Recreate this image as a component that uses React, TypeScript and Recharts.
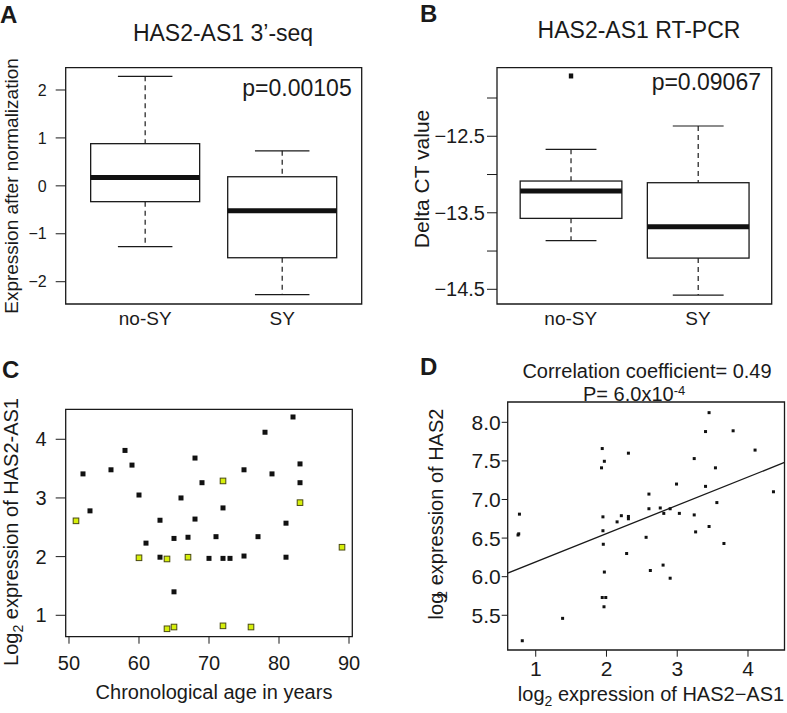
import React from 'react';
import { ComposedChart, ScatterChart, Scatter, Bar, XAxis, YAxis, ReferenceArea } from 'recharts';

const FONT = '"Liberation Sans", Arial, Helvetica, sans-serif';
const INK = '#1a1a1a';

// A + B: two groups per box plot
const groups = ['no-SY', 'SY'];
const groupPos = [1, 2];

// A: HAS2-AS1 3'-seq
const seqWhiskerLo = [-1.27, -2.27];
const seqQ1 = [-0.33, -1.5];
const seqMedian = [0.175, -0.52];
const seqQ3 = [0.88, 0.19];
const seqWhiskerHi = [2.285, 0.73];
const seqOutliers: number[][] = [[], []];
const seqTicks = [-2, -1, 0, 1, 2];

// B: HAS2-AS1 RT-PCR
const pcrWhiskerLo = [-13.865, -14.575];
const pcrQ1 = [-13.573, -14.092];
const pcrMedian = [-13.216, -13.682];
const pcrQ3 = [-13.085, -13.107];
const pcrWhiskerHi = [-12.671, -12.366];
const pcrOutliers: number[][] = [[-11.712], []];
const pcrTicks = [-12, -12.5, -13, -13.5, -14, -14.5];

// C: age vs log2 HAS2-AS1
const ageBlack = [52, 53, 56, 58, 59, 60, 61, 63, 63, 65, 65, 66, 67, 68, 68, 69, 70, 71, 72, 72, 73, 75, 75, 77, 78, 79, 81, 81, 82, 83, 83];
const exprBlack = [3.41, 2.78, 3.48, 3.81, 3.56, 3.05, 2.23, 2.62, 1.99, 2.31, 1.4, 3.0, 2.33, 3.68, 2.64, 3.26, 1.97, 2.34, 2.83, 1.97, 1.97, 3.48, 2.01, 2.34, 4.12, 3.41, 2.57, 1.99, 4.38, 3.58, 3.26];
const ageYellow = [51, 60, 64, 67, 72, 83, 89, 64, 65, 72, 76];
const exprYellow = [2.61, 1.98, 1.96, 1.99, 3.29, 2.92, 2.16, 0.77, 0.8, 0.82, 0.8];
const ageTicks = [50, 60, 70, 80, 90];
const exprTicks = [1, 2, 3, 4];

// D: log2 HAS2-AS1 vs log HAS2
const has2as1 = [0.77, 0.76, 0.75, 0.81, 1.38, 1.94, 1.97, 1.93, 1.95, 1.95, 1.955, 1.97, 1.94, 1.99, 1.965, 2.15, 2.21, 2.31, 2.31, 2.31, 2.285, 2.56, 2.6, 2.6, 2.62, 2.76, 2.81, 2.9, 2.8, 2.9, 2.99, 3.03, 3.24, 3.24, 3.26, 3.4, 3.4, 3.45, 3.45, 3.54, 3.56, 3.66, 3.79, 4.1, 4.36];
const has2 = [6.81, 6.555, 6.54, 5.17, 5.46, 7.66, 7.495, 7.41, 6.775, 6.595, 6.42, 6.06, 5.73, 5.73, 5.61, 6.71, 6.79, 7.6, 6.78, 6.75, 6.3, 6.51, 7.07, 6.88, 6.08, 6.89, 6.82, 6.88, 6.15, 5.98, 7.2, 6.82, 7.53, 6.8, 6.58, 7.88, 7.17, 8.125, 6.65, 7.41, 6.96, 6.43, 7.89, 7.64, 7.1];
const fitX = [0.604, 4.516];
const fitY = [6.047, 7.48];
const d2Ticks = [1, 2, 3, 4];
const has2Ticks = [5.5, 6, 6.5, 7, 7.5, 8];

// axis ranges (R style, 4% padding)
const boxX = [0.42, 2.58];
const seqY = [-2.465, 2.465];
const pcrY = [-14.692, -11.604];
const cX = [49.53, 90.47];
const cY = [0.635, 4.511];
const dX = [0.604, 4.516];
const dY = [5.05, 8.263];

function boxRows(lo: number[], q1: number[], med: number[], q3: number[], hi: number[], out: number[][]) {
  return groupPos.map((pos, i) => {
    const all = [lo[i], hi[i], ...out[i]];
    return {
      pos,
      span: [Math.min(...all), Math.max(...all)],
      lo: lo[i], q1: q1[i], med: med[i], q3: q3[i], hi: hi[i], out: out[i],
    };
  });
}

const seqRows = boxRows(seqWhiskerLo, seqQ1, seqMedian, seqQ3, seqWhiskerHi, seqOutliers);
const pcrRows = boxRows(pcrWhiskerLo, pcrQ1, pcrMedian, pcrQ3, pcrWhiskerHi, pcrOutliers);
const cBlack = ageBlack.map((x, i) => ({ x, y: exprBlack[i] }));
const cYellow = ageYellow.map((x, i) => ({ x, y: exprYellow[i] }));
const dPoints = has2as1.map((x, i) => ({ x, y: has2[i] }));
const dFit = fitX.map((x, i) => ({ x, y: fitY[i] }));

const minus = (v: number) => String(v).replace('-', '\u2212');
const groupLabel = (v: number) => groups[groupPos.indexOf(v)] ?? '';

// box drawn inside the bar spanning [lowest, highest]; values mapped through the bar's own pixel span
function BoxShape(props: any) {
  const { x, y, width, height, payload } = props;
  if (!payload) return null;
  const [a, b] = payload.span;
  const top = Math.min(y, y + height);
  const h = Math.abs(height);
  const py = (v: number) => top + ((b - v) / (b - a)) * h;
  const cx = x + width / 2;
  const cap = width / 4;
  return (
    <g>
      <line x1={cx} x2={cx} y1={py(payload.hi)} y2={py(payload.q3)} stroke={INK} strokeWidth={1.2} strokeDasharray="5 4" />
      <line x1={cx} x2={cx} y1={py(payload.q1)} y2={py(payload.lo)} stroke={INK} strokeWidth={1.2} strokeDasharray="5 4" />
      <line x1={cx - cap} x2={cx + cap} y1={py(payload.hi)} y2={py(payload.hi)} stroke={INK} strokeWidth={1.2} />
      <line x1={cx - cap} x2={cx + cap} y1={py(payload.lo)} y2={py(payload.lo)} stroke={INK} strokeWidth={1.2} />
      <rect x={x} y={py(payload.q3)} width={width} height={py(payload.q1) - py(payload.q3)} fill="#fff" stroke={INK} strokeWidth={1.3} />
      <line x1={x} x2={x + width} y1={py(payload.med)} y2={py(payload.med)} stroke="#111" strokeWidth={5} />
      {payload.out.map((o: number, i: number) => (
        <rect key={i} x={cx - 2.2} y={py(o) - 2.5} width={4.4} height={5} fill="#111" />
      ))}
    </g>
  );
}

const BlackSquare = (p: any) => <rect x={p.cx - 2.5} y={p.cy - 2.5} width={5} height={5} fill="#111" />;
const YellowSquare = (p: any) => (
  <rect x={p.cx - 2.8} y={p.cy - 2.8} width={5.6} height={5.6} fill="#d6ef0a" stroke="#4a4a12" strokeWidth={1} />
);
const SmallSquare = (p: any) => <rect x={p.cx - 1.5} y={p.cy - 1.5} width={3} height={3} fill="#111" />;
const NoDot = () => null;

const tickStyle = (size: number) => ({ fontSize: size, fill: INK, fontFamily: FONT });

export default function App() {
  return (
    <div style={{ position: 'absolute', left: 0, top: 0, width: 787, height: 713, background: '#fff', fontFamily: FONT }}>
      {/* A */}
      <div style={{ position: 'absolute', left: 0, top: 0 }}>
        <ComposedChart width={390} height={340} data={seqRows} margin={{ top: 67.7, right: 28.3, bottom: 6, left: 5.7 }}>
          <XAxis type="number" dataKey="pos" domain={boxX} allowDataOverflow ticks={groupPos} interval={0}
            tickFormatter={groupLabel} axisLine={false} tickLine={false} height={30} tick={tickStyle(19)} />
          <YAxis type="number" domain={seqY} allowDataOverflow ticks={seqTicks} interval={0} width={60}
            axisLine={false} tickSize={10} tickMargin={9} tickLine={{ stroke: INK }} tickFormatter={minus} tick={tickStyle(16)} />
          <ReferenceArea x1={boxX[0]} x2={boxX[1]} y1={seqY[0]} y2={seqY[1]} fill="none" stroke={INK} strokeWidth={1.3} ifOverflow="visible" />
          <Bar dataKey="span" barSize={109} shape={BoxShape} isAnimationActive={false} />
        </ComposedChart>
      </div>

      {/* B */}
      <div style={{ position: 'absolute', left: 390, top: 0 }}>
        <ComposedChart width={397} height={340} data={pcrRows} margin={{ top: 67.7, right: 15.3, bottom: 6, left: 27 }}>
          <XAxis type="number" dataKey="pos" domain={boxX} allowDataOverflow ticks={groupPos} interval={0}
            tickFormatter={groupLabel} axisLine={false} tickLine={false} height={30} tick={tickStyle(19)} />
          <YAxis type="number" domain={pcrY} allowDataOverflow ticks={pcrTicks} interval={0} width={80}
            axisLine={false} tickSize={10} tickMargin={2} tickLine={{ stroke: INK }}
            tickFormatter={(v: number) => (Number.isInteger(v) ? '' : minus(v))} tick={tickStyle(20)} />
          <ReferenceArea x1={boxX[0]} x2={boxX[1]} y1={pcrY[0]} y2={pcrY[1]} fill="none" stroke={INK} strokeWidth={1.3} ifOverflow="visible" />
          <Bar dataKey="span" barSize={101.7} shape={BoxShape} isAnimationActive={false} />
        </ComposedChart>
      </div>

      {/* C */}
      <div style={{ position: 'absolute', left: 0, top: 340 }}>
        <ScatterChart width={390} height={373} margin={{ top: 69.3, right: 37.7, bottom: 46.3, left: 5.7 }}>
          <XAxis type="number" dataKey="x" domain={cX} allowDataOverflow ticks={ageTicks} interval={0} height={30}
            axisLine={false} tickSize={7} tickMargin={12} tickLine={{ stroke: INK }} tick={tickStyle(20)} />
          <YAxis type="number" dataKey="y" domain={cY} allowDataOverflow ticks={exprTicks} interval={0} width={60}
            axisLine={false} tickSize={10} tickMargin={9} tickLine={{ stroke: INK }} tick={tickStyle(20)} />
          <ReferenceArea x1={cX[0]} x2={cX[1]} y1={cY[0]} y2={cY[1]} fill="none" stroke={INK} strokeWidth={1.3} ifOverflow="visible" />
          <Scatter data={cBlack} shape={BlackSquare} isAnimationActive={false} />
          <Scatter data={cYellow} shape={YellowSquare} isAnimationActive={false} />
        </ScatterChart>
      </div>

      {/* D */}
      <div style={{ position: 'absolute', left: 390, top: 340 }}>
        <ScatterChart width={397} height={373} margin={{ top: 62, right: 2.5, bottom: 33, left: 17.7 }}>
          <XAxis type="number" dataKey="x" domain={dX} allowDataOverflow ticks={d2Ticks} interval={0} height={30}
            axisLine={false} tickSize={6.7} tickMargin={4} tickLine={{ stroke: INK }} tick={tickStyle(21)} />
          <YAxis type="number" dataKey="y" domain={dY} allowDataOverflow ticks={has2Ticks} interval={0} width={100}
            axisLine={false} tickSize={6} tickMargin={1} tickLine={{ stroke: INK }}
            tickFormatter={(v: number) => v.toFixed(1)} tick={tickStyle(21)} />
          <ReferenceArea x1={dX[0]} x2={dX[1]} y1={dY[0]} y2={dY[1]} fill="none" stroke={INK} strokeWidth={1.3} ifOverflow="visible" />
          <Scatter data={dFit} line={{ stroke: INK, strokeWidth: 1.3 }} shape={NoDot} isAnimationActive={false} />
          <Scatter data={dPoints} shape={SmallSquare} isAnimationActive={false} />
        </ScatterChart>
      </div>

      {/* titles, panel letters, axis titles */}
      <svg width={787} height={713} style={{ position: 'absolute', left: 0, top: 0, pointerEvents: 'none' }} fontFamily={FONT} fill={INK}>
        <text x={0} y={23} fontSize={24} fontWeight="bold">A</text>
        <text x={420} y={22} fontSize={24} fontWeight="bold">B</text>
        <text x={2} y={378} fontSize={24} fontWeight="bold">C</text>
        <text x={420} y={375} fontSize={24} fontWeight="bold">D</text>

        <text x={223} y={41} fontSize={23} textAnchor="middle">HAS2-AS1 3’-seq</text>
        <text x={639} y={37.5} fontSize={23} textAnchor="middle">HAS2-AS1 RT-PCR</text>
        <text x={351.7} y={96} fontSize={23} textAnchor="end">p=0.00105</text>
        <text x={761} y={90} fontSize={23} textAnchor="end">p=0.09067</text>

        <text transform="translate(18,186) rotate(-90)" fontSize={19} textAnchor="middle">Expression after normalization</text>
        <text transform="translate(429,179) rotate(-90)" fontSize={21} textAnchor="middle">Delta CT value</text>
        <text transform="translate(18,532) rotate(-90)" fontSize={20} textAnchor="middle">
          Log<tspan fontSize={14} dy={5}>2</tspan><tspan dy={-5}> expression of HAS2-AS1</tspan>
        </text>
        <text transform="translate(443,514) rotate(-90)" fontSize={20} textAnchor="middle">
          log<tspan fontSize={14} dx={-6} dy={4}>2</tspan><tspan dy={-4}> expression of HAS2</tspan>
        </text>

        <text x={214} y={699} fontSize={20} textAnchor="middle">Chronological age in years</text>
        <text x={651} y={701} fontSize={20} textAnchor="middle">
          log<tspan fontSize={14} dy={5}>2</tspan><tspan dy={-5}> expression of HAS2−AS1</tspan>
        </text>

        <text x={647} y={378} fontSize={20} textAnchor="middle">Correlation coefficient= 0.49</text>
        <text x={583} y={400.5} fontSize={20}>
          P= 6.0x10<tspan fontSize={13} dy={-6}>-4</tspan>
        </text>
      </svg>
    </div>
  );
}
